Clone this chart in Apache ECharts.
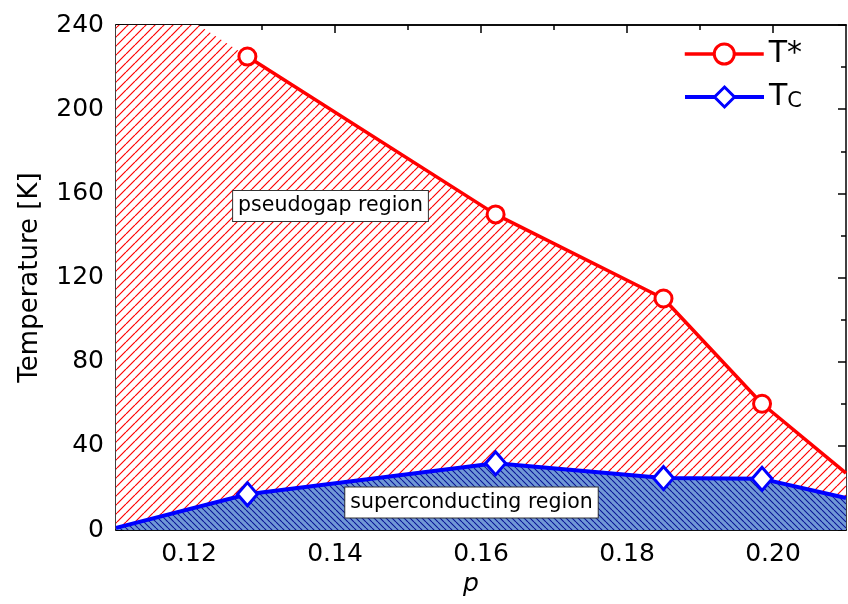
<!DOCTYPE html>
<html><head><meta charset="utf-8">
<script src="https://cdn.jsdelivr.net/npm/echarts@6/dist/echarts.min.js"></script>
<style>html,body{margin:0;padding:0;background:#fff}#c{width:848px;height:604px}</style>
</head><body><div id="c"></div><script>
// ---- data ----
const pPoints = [0.128, 0.162, 0.185, 0.1985];
const tStar = [225, 150, 110, 60];
const tC = [17, 31.7, 24.7, 24.3];
const pEdges = [0.11, 0.21];
const tStarEdges = [265, 27];   // T* boundary at the axis edges (left edge clipped by the 240 K limit)
const tCEdges = [1, 15.2];      // Tc boundary at the axis edges
const xMajorTicks = [0.12, 0.14, 0.16, 0.18, 0.20];
const xMinorTicks = [0.13, 0.15, 0.17, 0.19];
const yRange = [0, 240];
const yStep = 40;

// ---- styling ----
const FONT = 'DejaVu Sans';
function hatch(size, bg, fg, lw, dir) {
  const c = document.createElement('canvas');
  c.width = c.height = size;
  const ctx = c.getContext('2d');
  if (bg) { ctx.fillStyle = bg; ctx.fillRect(0, 0, size, size); }
  ctx.strokeStyle = fg; ctx.lineWidth = lw; ctx.beginPath();
  for (const o of [-size, 0, size]) {
    if (dir === '/') { ctx.moveTo(o, size); ctx.lineTo(o + size, 0); }
    else { ctx.moveTo(o, 0); ctx.lineTo(o + size, size); }
  }
  ctx.stroke();
  return c;
}
const redPattern = { image: hatch(9, '#ffffff', '#ff0000', 1.2, '/'), repeat: 'repeat' };
const bluePattern = { image: hatch(6, '#7098d6', '#0a1496', 1.05, '\\'), repeat: 'repeat' };

const zip = (xs, ys) => xs.map((x, i) => [x, ys[i]]);
const tStarData = [[pEdges[0], tStarEdges[0]], ...zip(pPoints, tStar), [pEdges[1], tStarEdges[1]]];
const tCData = [[pEdges[0], tCEdges[0]], ...zip(pPoints, tC), [pEdges[1], tCEdges[1]]];

const axisLine = { show: true, lineStyle: { color: '#000', width: 1.5 } };
function xAxisDef(pos, ticks, len, labels) {
  return {
    type: 'value', position: pos, min: pEdges[0], max: pEdges[1],
    axisLine: axisLine,
    axisTick: { show: true, inside: true, length: len, customValues: ticks, lineStyle: { color: '#000', width: 1.5 } },
    axisLabel: labels ? { show: true, customValues: ticks, formatter: v => v.toFixed(2), fontFamily: FONT, fontSize: 25, color: '#000', margin: 12 } : { show: false },
    splitLine: { show: false }
  };
}
function yAxisDef(pos, labels) {
  return {
    type: 'value', position: pos, min: yRange[0], max: yRange[1], interval: yStep,
    axisLine: axisLine,
    axisTick: { show: true, inside: true, length: 8, lineStyle: { color: '#000', width: 1.5 } },
    minorTick: { show: true, splitNumber: 2, length: 5, lineStyle: { color: '#000', width: 1.5 } },
    axisLabel: labels ? { show: true, fontFamily: FONT, fontSize: 25, color: '#000', margin: 12 } : { show: false },
    splitLine: { show: false }, minorSplitLine: { show: false }
  };
}

const xAxes = [
  Object.assign(xAxisDef('bottom', xMajorTicks, 8, true), {
    name: 'p', nameLocation: 'middle', nameGap: 17,
    nameTextStyle: { fontFamily: FONT, fontStyle: 'italic', fontSize: 25, color: '#000', padding: [0, 20, 0, 0] }
  }),
  xAxisDef('bottom', xMinorTicks, 5, false),
  xAxisDef('top', xMajorTicks, 8, false),
  xAxisDef('top', xMinorTicks, 5, false)
];
const yAxes = [
  Object.assign(yAxisDef('left', true), {
    name: 'Temperature [K]', nameLocation: 'middle', nameGap: 73,
    nameTextStyle: { fontFamily: FONT, fontSize: 26, color: '#000' }
  }),
  yAxisDef('right', false)
];

const legendCommon = {
  orient: 'vertical', left: 683, padding: 0,
  itemWidth: 79, itemHeight: 25, selectedMode: false
};

const chart = echarts.init(document.getElementById('c'), null, { renderer: 'canvas' });
chart.setOption({
  animation: false,
  backgroundColor: '#fff',
  grid: { left: 116, right: 2, top: 25, bottom: 74 },
  xAxis: xAxes,
  yAxis: yAxes,
  legend: [
    Object.assign({}, legendCommon, {
      data: ['T*'], top: 39,
      lineStyle: { color: '#ff0000', width: 3.5 },
      itemStyle: { color: '#ffffff', borderColor: '#ff0000', borderWidth: 3 },
      textStyle: { fontFamily: FONT, fontSize: 30, color: '#000' }
    }),
    Object.assign({}, legendCommon, {
      data: ['Tc'], top: 70,
      lineStyle: { color: '#0000ff', width: 4 },
      itemStyle: { color: '#ffffff', borderColor: '#0000ff', borderWidth: 3 },
      formatter: () => '{t|T}{s|C}',
      textStyle: {
        fontFamily: FONT, fontSize: 30, color: '#000',
        rich: {
          t: { fontFamily: FONT, fontSize: 30, lineHeight: 30, padding: [12, 0, 12, 0], color: '#000' },
          s: { fontFamily: FONT, fontSize: 21, lineHeight: 21, verticalAlign: 'bottom', color: '#000' }
        }
      }
    })
  ],
  series: [
    {
      name: 'pseudogap', type: 'line', data: tStarData, symbol: 'none', silent: true,
      lineStyle: { width: 0 }, areaStyle: { color: redPattern, opacity: 1 }, z: 1
    },
    {
      name: 'superconducting', type: 'line', data: tCData, symbol: 'none', silent: true,
      lineStyle: { width: 0 }, areaStyle: { color: bluePattern, opacity: 1 }, z: 2
    },
    {
      name: 'T*', type: 'line', z: 3,
      data: tStarData.slice(1).map((d, i, a) => i === a.length - 1 ? { value: d, symbol: 'none' } : d),
      symbol: 'circle', symbolSize: 17,
      lineStyle: { color: '#ff0000', width: 3.5 },
      itemStyle: { color: '#ffffff', borderColor: '#ff0000', borderWidth: 3 },
      emphasis: { disabled: true }
    },
    {
      name: 'Tc', type: 'line', z: 4,
      data: tCData.map((d, i, a) => (i === 0 || i === a.length - 1) ? { value: d, symbol: 'none' } : d),
      symbol: 'diamond', symbolSize: [20, 23],
      lineStyle: { color: '#0000ff', width: 4 },
      itemStyle: { color: '#ffffff', borderColor: '#0000ff', borderWidth: 3 },
      emphasis: { disabled: true }
    }
  ],
  graphic: [
    {
      type: 'text', x: 330.5, y: 206, z: 100,
      style: {
        text: 'pseudogap region', font: '20.5px "DejaVu Sans"', fill: '#000',
        align: 'center', verticalAlign: 'middle',
        backgroundColor: '#fff', borderColor: '#333', borderWidth: 1, padding: [5, 5, 4, 5]
      }
    },
    {
      type: 'text', x: 471.5, y: 502.5, z: 100,
      style: {
        text: 'superconducting region', font: '20.5px "DejaVu Sans"', fill: '#000',
        align: 'center', verticalAlign: 'middle',
        backgroundColor: '#fff', borderColor: '#333', borderWidth: 1, padding: [5, 5, 4, 5]
      }
    }
  ]
});
</script></body></html>
